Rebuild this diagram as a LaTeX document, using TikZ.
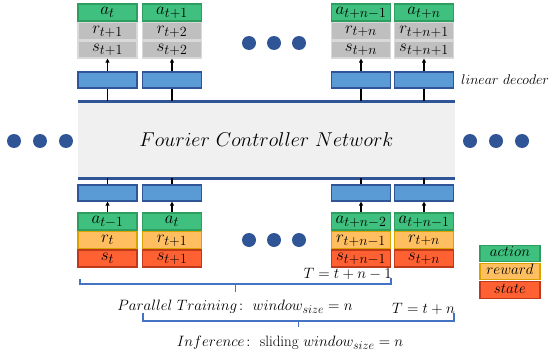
\documentclass[tikz,border=0pt]{standalone}
\usepackage{fix-cm}
\usepackage{amsmath}
\usetikzlibrary{arrows.meta}
\DeclareMathSizes{17}{17}{14}{10}
\DeclareMathSizes{15}{15}{12}{9}
\DeclareMathSizes{14}{14}{11}{8}
\DeclareMathSizes{20}{20}{15}{11}
\definecolor{gfill}{HTML}{3FC07E}
\definecolor{gdraw}{HTML}{2E9E60}
\definecolor{grfill}{HTML}{BFBFBF}
\definecolor{grdraw}{HTML}{D9D9D9}
\definecolor{ofill}{HTML}{FFBF60}
\definecolor{odraw}{HTML}{D9A300}
\definecolor{rfill}{HTML}{FF6133}
\definecolor{rdraw}{HTML}{C0391B}
\definecolor{bfill}{HTML}{5B9BD5}
\definecolor{bdraw}{HTML}{2F5597}
\definecolor{dblue}{HTML}{2F5597}
\definecolor{brc}{HTML}{4472C4}
\definecolor{midgray}{HTML}{F0F0F0}
\tikzset{
  cell/.style={minimum width=59pt,minimum height=17pt,inner sep=0pt,line width=1.2pt,font=\fontsize{17}{18}\selectfont,text height=8pt,text depth=4pt},
  acell/.style={cell,fill=gfill,draw=gdraw},
  gcell/.style={cell,fill=grfill,draw=grdraw},
  rcell/.style={cell,fill=ofill,draw=odraw},
  scell/.style={cell,fill=rfill,draw=rdraw},
  dec/.style={minimum width=59pt,minimum height=16pt,inner sep=0pt,fill=bfill,draw=bdraw,line width=1.2pt},
  dot/.style={circle,fill=dblue,minimum size=14pt,inner sep=0pt},
  arr/.style={-{Triangle[length=4pt,width=4pt]},line width=1.2pt},
  plain/.style={line width=1.2pt},
  brace/.style={brc,line width=1.6pt},
  lbl/.style={font=\fontsize{15}{16}\selectfont,inner sep=0pt},
  leg/.style={minimum width=60pt,minimum height=16.5pt,font=\fontsize{15}{16}\selectfont,text height=9pt,text depth=3pt},
}
\begin{document}
\begin{tikzpicture}[x=1pt,y=-1pt]
\useasboundingbox (0,0) rectangle (554,356);
% middle block
\node[fill=midgray,minimum width=377pt,minimum height=77pt,inner sep=0pt,font=\fontsize{20}{22}\selectfont] (fcn) at (266.5,139.5) {$Fourier\ Controller\ Network$};
\coordinate (tl) at (78,101); \coordinate (tr) at (455,101);
\coordinate (bl) at (78,178); \coordinate (br) at (455,178);
\draw[dblue,line width=3pt] (tl) -- (tr);
\draw[dblue,line width=3pt] (bl) -- (br);
% side dots
\foreach \x/\n in {14/l1,40/l2,66/l3,470/r1,496/r2,522/r3}{\node[dot] (d\n) at (\x,141) {};}
\foreach \x/\n in {249/t1,274/t2,299/t3}{\node[dot] (d\n) at (\x,43) {};}
\foreach \x/\n in {249/b1,274/b2,299/b3}{\node[dot] (d\n) at (\x,240) {};}
% columns
\foreach \c/\x/\aa/\rr/\ss/\ba/\br/\bs in {
  1/107.5/{a_t}/{r_{t+1}}/{s_{t+1}}/{a_{t-1}}/{r_t}/{s_t},
  2/172/{a_{t+1}}/{r_{t+2}}/{s_{t+2}}/{a_t}/{r_{t+1}}/{s_{t+1}},
  3/361/{a_{t+n-1}}/{r_{t+n}}/{s_{t+n}}/{a_{t+n-2}}/{r_{t+n-1}}/{s_{t+n-1}},
  4/424/{a_{t+n}}/{r_{t+n+1}}/{s_{t+n+1}}/{a_{t+n-1}}/{r_{t+n}}/{s_{t+n}}}{
  \node[acell] (ta\c) at (\x,12.5) {$\aa$};
  \node[gcell] (tr\c) at (\x,31) {$\rr$};
  \node[gcell] (ts\c) at (\x,49.5) {$\ss$};
  \node[dec] (td\c) at (\x,80) {};
  \coordinate (tp\c) at (\x,101);
  \draw[plain] (tp\c) -- (td\c.south);
  \draw[arr] (td\c.north) -- (ts\c.south);
  \node[dec] (bd\c) at (\x,193) {};
  \coordinate (bp\c) at (\x,178);
  \draw[plain] (bp\c) -- (bd\c.north);
  \node[acell] (ba\c) at (\x,221.5) {$\ba$};
  \node[rcell] (br\c) at (\x,240) {$\br$};
  \node[scell] (bs\c) at (\x,258.5) {$\bs$};
  \draw[arr] (ba\c.north) -- (bd\c.south);
}
\node[lbl,anchor=west,font=\fontsize{14}{15}\selectfont] (ld) at (461,80) {$linear\ decoder$};
% legend
\node[acell,leg] (la) at (510,253.5) {$action$};
\node[rcell,leg] (lr) at (510,271.5) {$reward$};
\node[scell,leg] (ls) at (510,290) {$state$};
% braces
\coordinate (b1a) at (80,279); \coordinate (b1b) at (80,284);
\coordinate (b1c) at (391,284); \coordinate (b1d) at (391,278);
\coordinate (b1m) at (235.5,284); \coordinate (b1t) at (235.5,292);
\draw[brace] (b1a) -- (b1b) -- (b1c) -- (b1d);
\draw[brace] (b1m) -- (b1t);
\coordinate (b2a) at (143,313); \coordinate (b2b) at (143,321);
\coordinate (b2c) at (454,321); \coordinate (b2d) at (454,313);
\coordinate (b2m) at (298.5,321); \coordinate (b2t) at (298.5,327);
\draw[brace] (b2a) -- (b2b) -- (b2c) -- (b2d);
\draw[brace] (b2m) -- (b2t);
\node[lbl,anchor=east] (T1) at (392,274) {$T=t+n-1$};
\node[lbl] (pt) at (235,307) {$Parallel\ Training\colon\ window_{size}=n$};
\node[lbl,anchor=east] (T2) at (455,309) {$T=t+n$};
\node[lbl] (inf) at (290,343) {$Inference\colon$ sliding $window_{size}=n$};
\end{tikzpicture}
\end{document}
